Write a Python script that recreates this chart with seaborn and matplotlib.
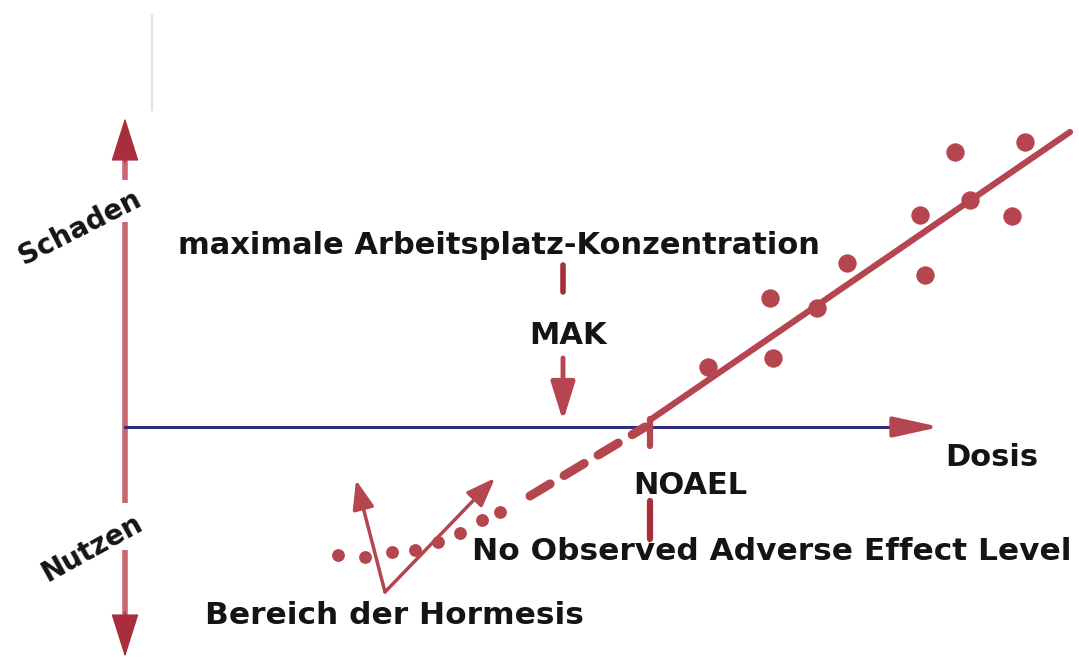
import numpy as np
import pandas as pd
import seaborn as sns
import matplotlib.pyplot as plt

# Dose (x) vs. effect (y); effect > 0 means harm, < 0 means benefit
obs_dose = [83.0, 90.0, 79.5, 88.7, 84.5, 72.2, 80.0, 64.5, 69.2, 58.3, 64.8]
obs_effect = [27.5, 28.5, 21.2, 21.1, 22.7, 16.4, 15.2, 12.9, 11.9, 6.0, 6.9]

fit_dose = [52.5, 94.5]
fit_effect = [0.7, 29.5]

dash_dose = [40.5, 52.0]
dash_effect = [-6.9, 0.0]

dot_dose = [21.3, 24.0, 26.7, 29.0, 31.3, 33.5, 35.7, 37.5]
dot_effect = [-12.8, -13.0, -12.5, -12.3, -11.5, -10.6, -9.3, -8.5]

noael_dose = 52.5
mak_dose = 43.8

red = "#b5454e"
dark_red = "#a82e3c"
pink = "#c86672"
navy = "#2e2e7c"
ink = "#141414"

sns.set_theme(style="white")
plt.rcParams["font.family"] = ["DejaVu Sans"]

fig = plt.figure(figsize=(10.79, 6.57), dpi=100)
ax = fig.add_axes([0, 0, 1, 1])
ax.set_xlim(-12.5, 95.4)
ax.set_ylim(-23.0, 42.7)
ax.axis("off")

head = "-|>,head_length=0.95,head_width=0.3"

# vertical axis (Schaden / Nutzen), broken where the labels sit
for y0, y1 in [(24.7, 27.5), (20.5, -7.6), (-12.3, -19.0)]:
    ax.plot([0, 0], [y0, y1], color=pink, lw=4, solid_capstyle="butt")
ax.annotate("", xy=(0, 30.9), xytext=(0, 26.5), annotation_clip=False,
            arrowprops=dict(arrowstyle=head, lw=1, mutation_scale=30,
                            shrinkA=0, shrinkB=0, fc=dark_red, ec=dark_red))
ax.annotate("", xy=(0, -23.0), xytext=(0, -18.5), annotation_clip=False,
            arrowprops=dict(arrowstyle=head, lw=1, mutation_scale=30,
                            shrinkA=0, shrinkB=0, fc=dark_red, ec=dark_red))

# horizontal axis (Dosis)
ax.plot([0, 77.5], [0, 0], color=navy, lw=2.2)
ax.annotate("", xy=(81.5, 0), xytext=(77.0, 0),
            arrowprops=dict(arrowstyle="-|>,head_length=1.0,head_width=0.22",
                            color=red, lw=3, mutation_scale=28, shrinkA=0, shrinkB=0))

# observations and fitted line
df = pd.DataFrame({"dose": obs_dose, "effect": obs_effect})
sns.scatterplot(data=df, x="dose", y="effect", s=175, color=red, edgecolor=red,
                linewidth=0, ax=ax, zorder=3)
sns.lineplot(x=fit_dose, y=fit_effect, color=red, lw=4.5, ax=ax, zorder=2)

# extrapolation below NOAEL
ax.plot(dash_dose, dash_effect, color=red, lw=6.5, dashes=(2.6, 1.8),
        dash_capstyle="round")
ax.scatter(dot_dose, dot_effect, s=85, color=red, linewidth=0, zorder=3)

# Hormesis arrows
vertex = (26.0, -16.5)
for tip in [(23.1, -5.3), (37.0, -5.1)]:
    ax.annotate("", xy=tip, xytext=vertex,
                arrowprops=dict(arrowstyle="-|>,head_length=0.8,head_width=0.3",
                                color=red, lw=2.5, mutation_scale=22, shrinkA=0, shrinkB=0))

# MAK marker
ax.plot([mak_dose, mak_dose], [16.2, 13.5], color=dark_red, lw=4)
ax.annotate("", xy=(mak_dose, 0.6), xytext=(mak_dose, 6.9),
            arrowprops=dict(arrowstyle="-|>,head_length=0.9,head_width=0.28",
                            color=red, lw=3.5, mutation_scale=26, shrinkA=0, shrinkB=0))

# NOAEL marker
ax.plot([noael_dose, noael_dose], [0.8, -1.9], color=red, lw=4.5)
ax.plot([noael_dose, noael_dose], [-7.4, -11.2], color=dark_red, lw=4.5)

# faint scan artefact at top left
ax.plot([2.7, 2.7], [41.2, 31.7], color="#e2e2e2", lw=1.5)

txt = dict(color=ink, fontweight="bold", va="center")
ax.text(5.3, 18.2, "maximale Arbeitsplatz-Konzentration", ha="left", fontsize=22, **txt)
ax.text(44.3, 9.2, "MAK", ha="center", fontsize=22, **txt)
ax.text(56.5, -5.8, "NOAEL", ha="center", fontsize=22, **txt)
ax.text(34.7, -12.5, "No Observed Adverse Effect Level", ha="left", fontsize=22.5, **txt)
ax.text(8.0, -18.8, "Bereich der Hormesis", ha="left", fontsize=22.5, **txt)
ax.text(82.0, -3.1, "Dosis", ha="left", fontsize=22, **txt)
ax.text(-4.5, 19.9, "Schaden", ha="center", fontsize=20, rotation=27, rotation_mode="anchor", **txt)
ax.text(-3.3, -12.1, "Nutzen", ha="center", fontsize=20, rotation=29, rotation_mode="anchor", **txt)

fig.savefig("out.png", dpi=100)
